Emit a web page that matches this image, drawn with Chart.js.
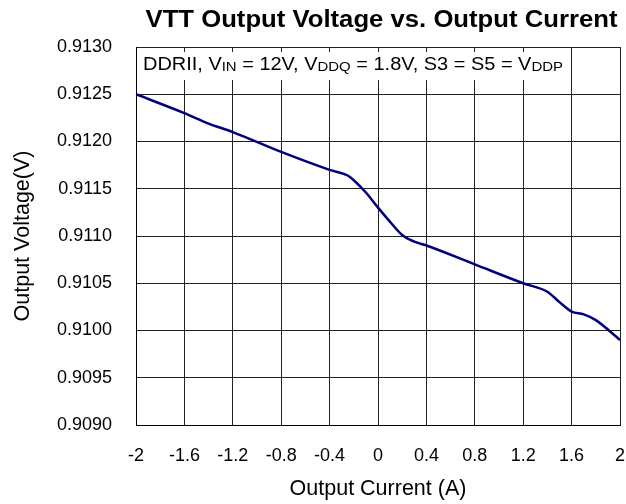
<!DOCTYPE html>
<html>
<head>
<meta charset="utf-8">
<script src="https://cdn.jsdelivr.net/npm/chart.js@4.4.1/dist/chart.umd.min.js"></script>
<style>
html,body{margin:0;padding:0;background:#fff;}
#wrap{width:626px;height:504px;position:relative;}
</style>
</head>
<body>
<div id="wrap"><canvas id="c" width="626" height="504"></canvas></div>
<script>
const titleText = 'VTT Output Voltage vs. Output Current';
const xTitle = 'Output Current (A)';
const yTitle = 'Output Voltage(V)';
const annotationParts = [
  ['DDRII, V', false], ['IN', true], [' = 12V, V', false], ['DDQ', true],
  [' = 1.8V, S3 = S5 = V', false], ['DDP', true]
];
const xTicks = [-2, -1.6, -1.2, -0.8, -0.4, 0, 0.4, 0.8, 1.2, 1.6, 2];
const yTicks = [0.9090, 0.9095, 0.9100, 0.9105, 0.9110, 0.9115, 0.9120, 0.9125, 0.9130];
const currentA = [-2, -1.6, -1.4, -1.2, -0.8, -0.4, -0.25, -0.2, -0.1, 0, 0.1, 0.2, 0.3, 0.4, 0.8, 1.2, 1.4, 1.5, 1.6, 1.7, 1.8, 2.0];
const voltageV = [0.91250, 0.91230, 0.91219, 0.91210, 0.91189, 0.91170, 0.91164, 0.91159, 0.91146, 0.91130, 0.91115, 0.91101, 0.91094, 0.91090, 0.91070, 0.91050, 0.91041, 0.91030, 0.91020, 0.91017, 0.91011, 0.90990];

const FONT = '"Liberation Sans", Arial, sans-serif';

function stretchedText(ctx, text, cx, y, targetWidth, align) {
  const w = ctx.measureText(text).width;
  const k = targetWidth / w;
  ctx.save();
  ctx.translate(cx, y);
  ctx.scale(k, 1);
  ctx.textAlign = align;
  ctx.fillText(text, 0, 0);
  ctx.restore();
}

const decor = {
  id: 'decor',
  afterDraw(chart) {
    const ctx = chart.ctx;
    const ca = chart.chartArea;
    ctx.save();
    ctx.fillStyle = '#000';
    ctx.textBaseline = 'alphabetic';
    // title
    ctx.font = 'bold 23px ' + FONT;
    stretchedText(ctx, titleText, 381.5, 27, 472, 'center');
    // annotation box
    ctx.fillStyle = '#fff';
    ctx.fillRect(ca.left + 1, 52, 430, 28);
    ctx.fillStyle = '#000';
    ctx.textAlign = 'left';
    // measure total natural width
    let total = 0;
    for (const [t, sub] of annotationParts) {
      ctx.font = (sub ? '13.5px ' : '18px ') + FONT;
      total += ctx.measureText(t).width;
    }
    const k = 420 / total;
    ctx.translate(ca.left + 7, 0);
    ctx.scale(k, 1);
    let x = 0;
    for (const [t, sub] of annotationParts) {
      ctx.font = (sub ? '13.5px ' : '18px ') + FONT;
      ctx.fillText(t, x, sub ? 71 : 69.5);
      x += ctx.measureText(t).width;
    }
    ctx.restore();
  }
};

new Chart(document.getElementById('c'), {
  type: 'scatter',
  data: {
    datasets: [{
      data: currentA.map((v, i) => ({x: v, y: voltageV[i]})),
      showLine: true,
      borderColor: '#000080',
      backgroundColor: '#000080',
      borderWidth: 2.5,
      pointRadius: 0,
      cubicInterpolationMode: 'monotone'
    }]
  },
  options: {
    responsive: false,
    animation: false,
    layout: {padding: {top: 47, right: 6, bottom: 0, left: 0}},
    plugins: {legend: {display: false}, tooltip: {enabled: false}, title: {display: false}},
    scales: {
      x: {
        type: 'linear', min: -2, max: 2,
        afterBuildTicks: s => { s.ticks = xTicks.map(v => ({value: v})); },
        afterFit: s => { s.height = 79; s.paddingLeft = 0; s.paddingRight = 0; },
        ticks: {
          color: '#000', padding: 20, font: {family: FONT, size: 18},
          callback: v => String(v)
        },
        grid: {color: '#222', lineWidth: 1, drawTicks: false},
        border: {color: '#000', width: 1},
        title: {display: true, text: xTitle, color: '#000', font: {family: FONT, size: 21.5}, padding: {top: 0, bottom: 2}}
      },
      y: {
        type: 'linear', min: 0.9090, max: 0.9130,
        afterBuildTicks: s => { s.ticks = yTicks.map(v => ({value: v})); },
        afterFit: s => { s.width = 136; s.paddingTop = 0; s.paddingBottom = 0; },
        ticks: {
          color: '#000', padding: 24, font: {family: FONT, size: 18},
          callback: v => v.toFixed(4)
        },
        grid: {color: '#222', lineWidth: 1, drawTicks: false},
        border: {color: '#000', width: 1},
        title: {display: true, text: yTitle, color: '#000', font: {family: FONT, size: 21.5}, padding: {top: 10, bottom: 0}}
      }
    }
  },
  plugins: [decor]
});
</script>
</body>
</html>
